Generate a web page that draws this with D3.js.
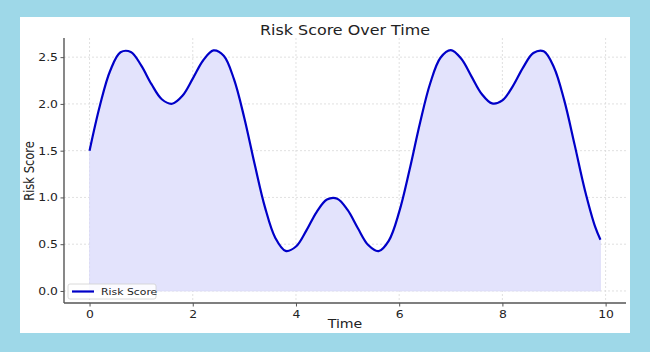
<!DOCTYPE html>
<html><head><meta charset="utf-8">
<script src="https://cdn.jsdelivr.net/npm/d3@7"></script>
<style>
html,body{margin:0;padding:0;background:#9ed8e8;}
svg{display:block;}
text{font-family:"DejaVu Sans",sans-serif;fill:#222;}
</style></head><body>
<svg id="c" width="650" height="352"></svg>
<script>
const times = [0,0.2,0.4,0.6,0.8,1.0,1.2,1.4,1.6,1.8,2.0,2.2,2.4,2.6,2.8,3.0,3.2,3.4,3.6,3.8,4.0,4.2,4.4,4.6,4.8,5.0,5.2,5.4,5.6,5.8,6.0,6.2,6.4,6.6,6.8,7.0,7.2,7.4,7.6,7.8,8.0,8.2,8.4,8.6,8.8,9.0,9.2,9.4,9.6,9.8,9.9];
const riskScores = [1.500,1.981,2.355,2.552,2.555,2.412,2.211,2.050,2.002,2.087,2.270,2.464,2.572,2.515,2.262,1.847,1.354,0.894,0.567,0.428,0.475,0.645,0.844,0.978,0.987,0.866,0.670,0.491,0.426,0.539,0.845,1.293,1.788,2.218,2.494,2.575,2.485,2.295,2.106,2.005,2.037,2.188,2.388,2.544,2.562,2.390,2.035,1.562,1.075,0.682,0.548];
const xTicks = [0,2,4,6,8,10];
const yTicks = [0.0,0.5,1.0,1.5,2.0,2.5];
const title = "Risk Score Over Time";
const xLabel = "Time";
const yLabel = "Risk Score";
const seriesName = "Risk Score";

const data = times.map((t,i)=>({t, v:riskScores[i]}));
const svg = d3.select("#c");
const SX = 1.18;

svg.append("rect").attr("x",20).attr("y",17).attr("width",610).attr("height",316).attr("fill","#fff");

const L=64, R=626, T=38, B=303;
const x = d3.scaleLinear().domain([-0.495,10.395]).range([L,R]);
const y = d3.scaleLinear().domain([-0.1288,2.7048]).range([B,T]);

const g = svg.append("g");
g.selectAll(".gx").data(xTicks).join("line")
 .attr("x1",d=>x(d)).attr("x2",d=>x(d)).attr("y1",T).attr("y2",B)
 .attr("stroke","#d8d8d8").attr("stroke-width",0.8).attr("stroke-dasharray","2,2");
g.selectAll(".gy").data(yTicks).join("line")
 .attr("x1",L).attr("x2",R).attr("y1",d=>y(d)).attr("y2",d=>y(d))
 .attr("stroke","#d8d8d8").attr("stroke-width",0.8).attr("stroke-dasharray","2,2");

const curve = d3.curveCatmullRom.alpha(0.5);
svg.append("path").datum(data)
 .attr("d", d3.area().x(d=>x(d.t)).y0(y(0)).y1(d=>y(d.v)).curve(curve))
 .attr("fill","#e3e3fc").attr("stroke","#d6d6f6").attr("stroke-width",0.6);
svg.append("path").datum(data)
 .attr("d", d3.line().x(d=>x(d.t)).y(d=>y(d.v)).curve(curve))
 .attr("fill","none").attr("stroke","#0000c8").attr("stroke-width",2.2).attr("stroke-linejoin","round");

const xAxis = svg.append("g").attr("transform",`translate(0,${B})`)
 .call(d3.axisBottom(x).tickValues(xTicks).tickSize(3.5).tickFormat(d3.format("d")));
const yAxis = svg.append("g").attr("transform",`translate(${L},0)`)
 .call(d3.axisLeft(y).tickValues(yTicks).tickSize(3.5).tickFormat(d3.format(".1f")));
[xAxis,yAxis].forEach(a=>{
  a.select(".domain").attr("stroke","#555").attr("stroke-width",1.4);
  a.selectAll(".tick line").attr("stroke","#555");
  a.selectAll(".tick text").attr("font-family","DejaVu Sans").attr("font-size",10.5).attr("fill","#222");
});
xAxis.select(".domain").attr("d",`M${L},0H${R}`);
yAxis.select(".domain").attr("d",`M0,${T}V${B}`);
xAxis.selectAll(".tick text").attr("y",8).attr("dy","0.71em")
 .attr("transform",`scale(${SX},1)`).attr("x",0);
yAxis.selectAll(".tick text").attr("x",0).attr("text-anchor","end")
 .attr("transform",`translate(-6,0) scale(${SX},1)`);

svg.append("text").attr("text-anchor","middle").attr("font-size",13.5)
 .attr("transform",`translate(345,35) scale(${SX},1)`).text(title);
svg.append("text").attr("text-anchor","middle").attr("font-size",12)
 .attr("transform",`translate(345,328) scale(${SX},1)`).text(xLabel);
svg.append("text").attr("text-anchor","middle").attr("font-size",11.5)
 .attr("transform",`translate(34,171) rotate(-90) scale(1,${SX})`).text(yLabel);

const lg = svg.append("g");
lg.append("rect").attr("x",68).attr("y",284).attr("width",88).attr("height",15).attr("rx",2)
 .attr("fill","#fff").attr("fill-opacity",0.85).attr("stroke","#d0d0d0").attr("stroke-width",0.8);
lg.append("line").attr("x1",72).attr("x2",94).attr("y1",291.5).attr("y2",291.5)
 .attr("stroke","#0000c8").attr("stroke-width",2.2);
lg.append("text").attr("font-size",9.2).attr("transform",`translate(101,295) scale(${SX},1)`).text(seriesName);
</script></body></html>
